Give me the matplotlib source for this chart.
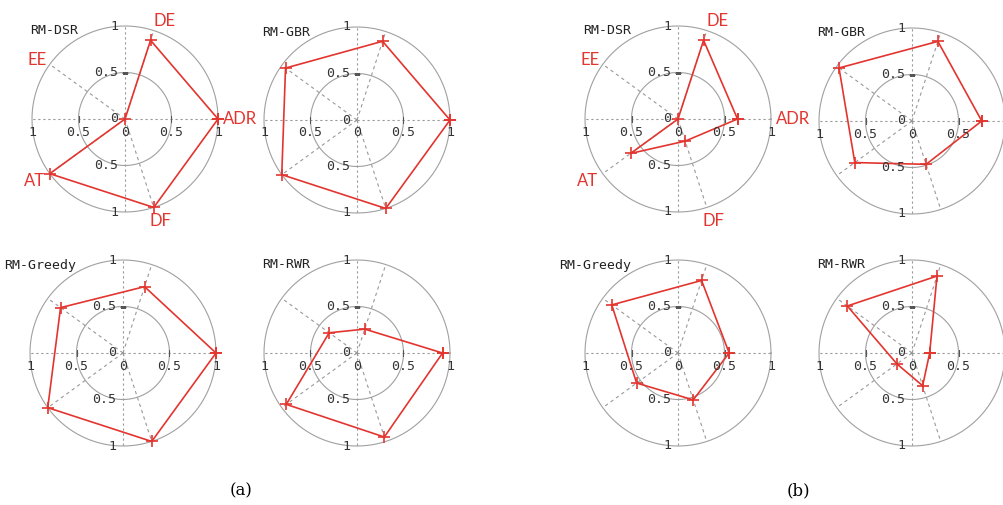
import numpy as np
import matplotlib
matplotlib.use('Agg')
import matplotlib.pyplot as plt

# axis order round the radar: ADR at 0 deg, then counter-clockwise
categories = ['ADR', 'DE', 'EE', 'AT', 'DF']
method_names = ['RM-DSR', 'RM-GBR', 'RM-Greedy', 'RM-RWR']

# panel (a)
a_dsr = [1.0, 0.89, 0.0, 1.0, 1.0]
a_gbr = [1.0, 0.89, 0.95, 1.0, 1.0]
a_greedy = [1.0, 0.75, 0.83, 1.0, 1.0]
a_rwr = [0.92, 0.27, 0.37, 0.94, 0.95]

# panel (b)
b_dsr = [0.64, 0.89, 0.0, 0.63, 0.25]
b_gbr = [0.75, 0.90, 0.97, 0.76, 0.49]
b_greedy = [0.55, 0.82, 0.88, 0.55, 0.53]
b_rwr = [0.19, 0.87, 0.86, 0.20, 0.37]

x_ticklabels = ['1', '0.5', '0', '0.5', '1']
y_ticklabels = ['1', '0.5', '0', '0.5', '1']

W, H = 1004, 505
R = 93
RED = '#e3352f'
GRID = '#999999'
MONO = 'DejaVu Sans Mono'

# category label placement (angle in degrees, radius)
cat_pos = {'ADR': (0, 1.24), 'DE': (68, 1.14), 'EE': (146, 1.14),
           'AT': (214.6, 1.18), 'DF': (-71, 1.16)}

fig = plt.figure(figsize=(W / 100, H / 100), dpi=100)


def radar(cx, cy, values, title, show_cats=False, edge=False):
    ax = fig.add_axes([(cx - R) / W, (H - cy - R) / H, 2 * R / W, 2 * R / H],
                      projection='polar')
    ax.set_ylim(0, 1)
    ax.grid(False)
    ax.set_xticks([])
    ax.set_yticks([])
    ax.spines['polar'].set_visible(False)
    ax.patch.set_alpha(0)

    t = np.linspace(0, 2 * np.pi, 361)
    for rr in (0.5, 1.0):
        ax.plot(t, np.full_like(t, rr), color='#a0a0a0', lw=0.8, clip_on=False)
    # main cross
    for a in (0, np.pi / 2, np.pi, 3 * np.pi / 2):
        ax.plot([a, a], [0, 1], color=GRID, lw=0.8, ls=(0, (2, 2.5)), clip_on=False)
    # spokes for the other categories
    theta = np.arange(len(categories)) * 2 * np.pi / len(categories)
    for a in theta[1:]:
        ax.plot([a, a], [0, 1], color=GRID, lw=0.8, ls=(0, (3, 3)), clip_on=False)
    # small ticks at 0.5
    ax.plot([0, np.pi], [0.5, 0.5], ls='none', marker='|', ms=4, color='#555555', mew=0.8)
    ax.plot([np.pi / 2], [0.5], ls='none', marker='_', ms=4, color='#555555', mew=0.8)

    # tick labels (the right-hand "1" falls off the page in the last column)
    xs = [-1, -0.5, 0, 0.5, 1]
    for xv, lab in zip(xs, x_ticklabels):
        if edge and xv == 1:
            continue
        ang = 0 if xv >= 0 else np.pi
        ax.annotate(lab, xy=(ang, abs(xv)), xytext=(0, -13), textcoords='offset pixels',
                    ha='center', va='center', fontsize=9.5, family=MONO, color='#333333')
    ys = [1, 0.5, 0, -0.5, -1]
    for yv, lab in zip(ys, y_ticklabels):
        ang = np.pi / 2 if yv >= 0 else 3 * np.pi / 2
        ax.annotate(lab, xy=(ang, abs(yv)), xytext=(-7, 0), textcoords='offset pixels',
                    ha='right', va='center', fontsize=9.5, family=MONO, color='#333333')

    ax.annotate(title, xy=(0, 0), xytext=(-47, 88), textcoords='offset pixels',
                ha='right', va='center', fontsize=9.5, family=MONO, color='#222222')

    th = np.append(theta, theta[0])
    vv = np.append(values, values[0])
    ax.plot(th, vv, color=RED, lw=1.2, marker='+', ms=8, mew=1.2, clip_on=False)

    if show_cats:
        for c in categories:
            deg, rr = cat_pos[c]
            ax.text(np.deg2rad(deg), rr, c, ha='center', va='center',
                    fontsize=12, family='Lato', color=RED)
    return ax


radar(125, 119, a_dsr, method_names[0], True)
radar(357, 120, a_gbr, method_names[1])
radar(123, 353, a_greedy, method_names[2])
radar(357, 353, a_rwr, method_names[3])

radar(678, 119, b_dsr, method_names[0], True)
radar(912, 121, b_gbr, method_names[1], edge=True)
radar(678, 353, b_greedy, method_names[2])
radar(912, 353, b_rwr, method_names[3], edge=True)

fig.text(241 / W, 1 - 491 / H, '(a)', ha='center', va='center', fontsize=12, family='DejaVu Serif')
fig.text(798 / W, 1 - 491 / H, '(b)', ha='center', va='center', fontsize=12, family='DejaVu Serif')

fig.savefig('out.png', dpi=100, facecolor='white')
